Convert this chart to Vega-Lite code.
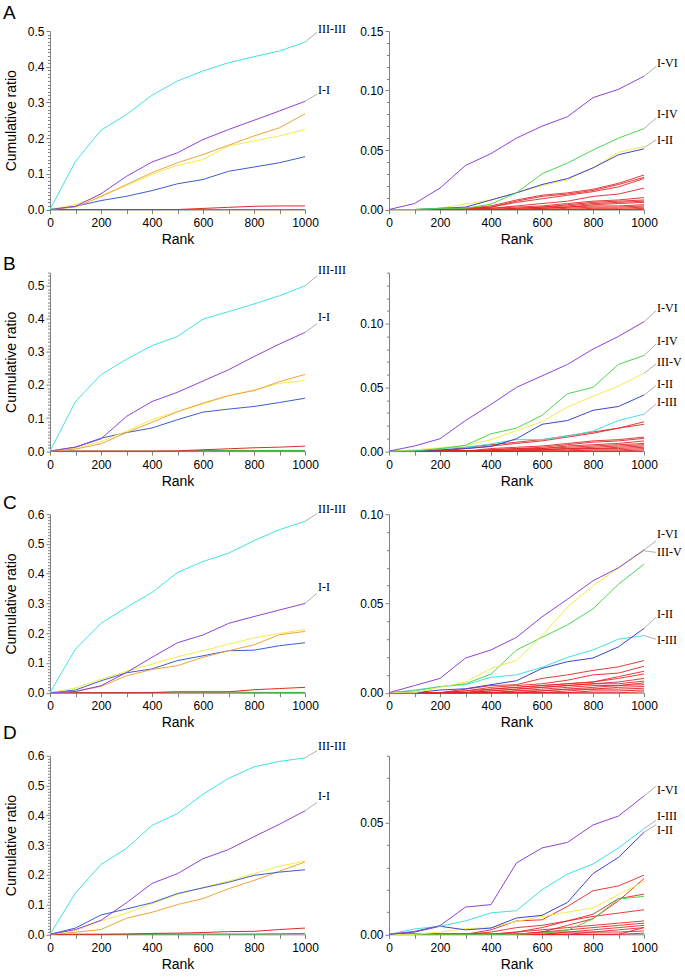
{
"$schema":"https://vega.github.io/schema/vega-lite/v6.json",
"padding":{"left":3,"top":4,"right":5,"bottom":5},
"background":"white",
"config":{"view":{"stroke":null},
"axis":{"domainColor":"#808080","tickColor":"#808080","labelColor":"#000","labelFont":"Liberation Sans","labelFontSize":12,"titleFont":"Liberation Sans","titleFontSize":14,"titleFontWeight":"normal","titleColor":"#000","grid":false,"domainWidth":1,"tickWidth":1}},
"datasets":{
"A1":[
{"s":"s7","x":0,"y":0},{"s":"s7","x":1000,"y":0},
{"s":"s6","x":0,"y":0},{"s":"s6","x":500,"y":0},{"s":"s6","x":600,"y":0.003},{"s":"s6","x":700,"y":0.006},{"s":"s6","x":800,"y":0.009},{"s":"s6","x":900,"y":0.01},{"s":"s6","x":1000,"y":0.01},
{"s":"s5","x":0,"y":0},{"s":"s5","x":100,"y":0.009},{"s":"s5","x":200,"y":0.025},{"s":"s5","x":300,"y":0.037},{"s":"s5","x":400,"y":0.053},{"s":"s5","x":500,"y":0.072},{"s":"s5","x":600,"y":0.084},{"s":"s5","x":700,"y":0.107},{"s":"s5","x":800,"y":0.119},{"s":"s5","x":900,"y":0.131},{"s":"s5","x":1000,"y":0.148},
{"s":"s4","x":0,"y":0},{"s":"s4","x":100,"y":0.014},{"s":"s4","x":200,"y":0.039},{"s":"s4","x":300,"y":0.067},{"s":"s4","x":400,"y":0.098},{"s":"s4","x":500,"y":0.124},{"s":"s4","x":600,"y":0.14},{"s":"s4","x":700,"y":0.178},{"s":"s4","x":800,"y":0.192},{"s":"s4","x":900,"y":0.206},{"s":"s4","x":1000,"y":0.224},
{"s":"s3","x":0,"y":0},{"s":"s3","x":100,"y":0.007},{"s":"s3","x":200,"y":0.036},{"s":"s3","x":300,"y":0.07},{"s":"s3","x":400,"y":0.103},{"s":"s3","x":500,"y":0.131},{"s":"s3","x":600,"y":0.154},{"s":"s3","x":700,"y":0.18},{"s":"s3","x":800,"y":0.206},{"s":"s3","x":900,"y":0.229},{"s":"s3","x":1000,"y":0.268},
{"s":"I-I","x":0,"y":0},{"s":"I-I","x":100,"y":0.009},{"s":"I-I","x":200,"y":0.044},{"s":"I-I","x":300,"y":0.093},{"s":"I-I","x":400,"y":0.133},{"s":"I-I","x":500,"y":0.159},{"s":"I-I","x":600,"y":0.196},{"s":"I-I","x":700,"y":0.224},{"s":"I-I","x":800,"y":0.25},{"s":"I-I","x":900,"y":0.276},{"s":"I-I","x":1000,"y":0.303},
{"s":"III-III","x":0,"y":0},{"s":"III-III","x":100,"y":0.135},{"s":"III-III","x":200,"y":0.222},{"s":"III-III","x":300,"y":0.266},{"s":"III-III","x":400,"y":0.32},{"s":"III-III","x":500,"y":0.36},{"s":"III-III","x":600,"y":0.388},{"s":"III-III","x":700,"y":0.411},{"s":"III-III","x":800,"y":0.428},{"s":"III-III","x":900,"y":0.444},{"s":"III-III","x":1000,"y":0.469}
],
"A2":[
{"s":"r01","x":0,"y":0},{"s":"r01","x":200,"y":0},{"s":"r01","x":300,"y":0.001},{"s":"r01","x":400,"y":0.003},{"s":"r01","x":500,"y":0.008},{"s":"r01","x":600,"y":0.012},{"s":"r01","x":700,"y":0.014},{"s":"r01","x":800,"y":0.017},{"s":"r01","x":900,"y":0.022},{"s":"r01","x":1000,"y":0.029},
{"s":"r02","x":0,"y":0},{"s":"r02","x":200,"y":0},{"s":"r02","x":300,"y":0.001},{"s":"r02","x":400,"y":0.002},{"s":"r02","x":500,"y":0.007},{"s":"r02","x":600,"y":0.011},{"s":"r02","x":700,"y":0.013},{"s":"r02","x":800,"y":0.016},{"s":"r02","x":900,"y":0.021},{"s":"r02","x":1000,"y":0.027},
{"s":"r03","x":0,"y":0},{"s":"r03","x":300,"y":0},{"s":"r03","x":400,"y":0.002},{"s":"r03","x":500,"y":0.006},{"s":"r03","x":600,"y":0.009},{"s":"r03","x":700,"y":0.012},{"s":"r03","x":800,"y":0.015},{"s":"r03","x":900,"y":0.019},{"s":"r03","x":1000,"y":0.026},
{"s":"r04","x":0,"y":0},{"s":"r04","x":300,"y":0},{"s":"r04","x":400,"y":0.001},{"s":"r04","x":500,"y":0.003},{"s":"r04","x":600,"y":0.005},{"s":"r04","x":700,"y":0.007},{"s":"r04","x":800,"y":0.011},{"s":"r04","x":900,"y":0.013},{"s":"r04","x":1000,"y":0.018},
{"s":"r05","x":0,"y":0},{"s":"r05","x":300,"y":0},{"s":"r05","x":400,"y":0.001},{"s":"r05","x":500,"y":0.002},{"s":"r05","x":600,"y":0.003},{"s":"r05","x":700,"y":0.005},{"s":"r05","x":800,"y":0.007},{"s":"r05","x":900,"y":0.008},{"s":"r05","x":1000,"y":0.01},
{"s":"r06","x":0,"y":0},{"s":"r06","x":400,"y":0},{"s":"r06","x":500,"y":0.001},{"s":"r06","x":600,"y":0.002},{"s":"r06","x":700,"y":0.004},{"s":"r06","x":800,"y":0.006},{"s":"r06","x":900,"y":0.007},{"s":"r06","x":1000,"y":0.008},
{"s":"r07","x":0,"y":0},{"s":"r07","x":400,"y":0},{"s":"r07","x":500,"y":0.001},{"s":"r07","x":600,"y":0.002},{"s":"r07","x":700,"y":0.003},{"s":"r07","x":800,"y":0.005},{"s":"r07","x":900,"y":0.006},{"s":"r07","x":1000,"y":0.007},
{"s":"r08","x":0,"y":0},{"s":"r08","x":500,"y":0},{"s":"r08","x":600,"y":0.001},{"s":"r08","x":700,"y":0.002},{"s":"r08","x":800,"y":0.004},{"s":"r08","x":900,"y":0.005},{"s":"r08","x":1000,"y":0.006},
{"s":"r09","x":0,"y":0},{"s":"r09","x":500,"y":0},{"s":"r09","x":600,"y":0.001},{"s":"r09","x":700,"y":0.002},{"s":"r09","x":800,"y":0.003},{"s":"r09","x":900,"y":0.003},{"s":"r09","x":1000,"y":0.004},
{"s":"r10","x":0,"y":0},{"s":"r10","x":600,"y":0},{"s":"r10","x":700,"y":0.001},{"s":"r10","x":800,"y":0.002},{"s":"r10","x":900,"y":0.002},{"s":"r10","x":1000,"y":0.003},
{"s":"r11","x":0,"y":0},{"s":"r11","x":700,"y":0},{"s":"r11","x":800,"y":0.001},{"s":"r11","x":900,"y":0.001},{"s":"r11","x":1000,"y":0.002},
{"s":"r12","x":0,"y":0},{"s":"r12","x":900,"y":0},{"s":"r12","x":1000,"y":0.001},
{"s":"r13","x":0,"y":0},{"s":"r13","x":1000,"y":0},
{"s":"III-V","x":0,"y":0},{"s":"III-V","x":100,"y":0},{"s":"III-V","x":200,"y":0.001},{"s":"III-V","x":300,"y":0.0045},{"s":"III-V","x":400,"y":0.008},{"s":"III-V","x":500,"y":0.014},{"s":"III-V","x":600,"y":0.02},{"s":"III-V","x":700,"y":0.025},{"s":"III-V","x":800,"y":0.035},{"s":"III-V","x":900,"y":0.048},{"s":"III-V","x":1000,"y":0.053},
{"s":"I-II","x":0,"y":0},{"s":"I-II","x":100,"y":0},{"s":"I-II","x":200,"y":0.001},{"s":"I-II","x":300,"y":0.002},{"s":"I-II","x":400,"y":0.008},{"s":"I-II","x":500,"y":0.014},{"s":"I-II","x":600,"y":0.021},{"s":"I-II","x":700,"y":0.026},{"s":"I-II","x":800,"y":0.035},{"s":"I-II","x":900,"y":0.046},{"s":"I-II","x":1000,"y":0.051},
{"s":"I-IV","x":0,"y":0},{"s":"I-IV","x":100,"y":0},{"s":"I-IV","x":200,"y":0.001},{"s":"I-IV","x":300,"y":0.001},{"s":"I-IV","x":400,"y":0.0045},{"s":"I-IV","x":500,"y":0.014},{"s":"I-IV","x":600,"y":0.03},{"s":"I-IV","x":700,"y":0.039},{"s":"I-IV","x":800,"y":0.05},{"s":"I-IV","x":900,"y":0.06},{"s":"I-IV","x":1000,"y":0.068},
{"s":"I-VI","x":0,"y":0},{"s":"I-VI","x":100,"y":0.005},{"s":"I-VI","x":200,"y":0.018},{"s":"I-VI","x":300,"y":0.037},{"s":"I-VI","x":400,"y":0.047},{"s":"I-VI","x":500,"y":0.06},{"s":"I-VI","x":600,"y":0.07},{"s":"I-VI","x":700,"y":0.078},{"s":"I-VI","x":800,"y":0.094},{"s":"I-VI","x":900,"y":0.101},{"s":"I-VI","x":1000,"y":0.112}
],
"B1":[
{"s":"s7","x":0,"y":0},{"s":"s7","x":500,"y":0},{"s":"s7","x":600,"y":0.002},{"s":"s7","x":1000,"y":0.002},
{"s":"s6","x":0,"y":0},{"s":"s6","x":400,"y":0},{"s":"s6","x":500,"y":0.001},{"s":"s6","x":600,"y":0.004},{"s":"s6","x":700,"y":0.007},{"s":"s6","x":800,"y":0.01},{"s":"s6","x":900,"y":0.012},{"s":"s6","x":1000,"y":0.015},
{"s":"s5","x":0,"y":0},{"s":"s5","x":100,"y":0.012},{"s":"s5","x":200,"y":0.039},{"s":"s5","x":300,"y":0.056},{"s":"s5","x":400,"y":0.07},{"s":"s5","x":500,"y":0.095},{"s":"s5","x":600,"y":0.118},{"s":"s5","x":700,"y":0.127},{"s":"s5","x":800,"y":0.135},{"s":"s5","x":900,"y":0.147},{"s":"s5","x":1000,"y":0.16},
{"s":"s4","x":0,"y":0},{"s":"s4","x":100,"y":0.009},{"s":"s4","x":200,"y":0.029},{"s":"s4","x":300,"y":0.06},{"s":"s4","x":400,"y":0.095},{"s":"s4","x":500,"y":0.12},{"s":"s4","x":600,"y":0.143},{"s":"s4","x":700,"y":0.167},{"s":"s4","x":800,"y":0.185},{"s":"s4","x":900,"y":0.205},{"s":"s4","x":1000,"y":0.214},
{"s":"s3","x":0,"y":0},{"s":"s3","x":100,"y":0.006},{"s":"s3","x":200,"y":0.022},{"s":"s3","x":300,"y":0.056},{"s":"s3","x":400,"y":0.087},{"s":"s3","x":500,"y":0.119},{"s":"s3","x":600,"y":0.145},{"s":"s3","x":700,"y":0.168},{"s":"s3","x":800,"y":0.183},{"s":"s3","x":900,"y":0.21},{"s":"s3","x":1000,"y":0.232},
{"s":"I-I","x":0,"y":0},{"s":"I-I","x":100,"y":0.012},{"s":"I-I","x":200,"y":0.037},{"s":"I-I","x":300,"y":0.105},{"s":"I-I","x":400,"y":0.15},{"s":"I-I","x":500,"y":0.178},{"s":"I-I","x":600,"y":0.212},{"s":"I-I","x":700,"y":0.246},{"s":"I-I","x":800,"y":0.286},{"s":"I-I","x":900,"y":0.324},{"s":"I-I","x":1000,"y":0.359},
{"s":"III-III","x":0,"y":0},{"s":"III-III","x":100,"y":0.15},{"s":"III-III","x":200,"y":0.231},{"s":"III-III","x":300,"y":0.278},{"s":"III-III","x":400,"y":0.319},{"s":"III-III","x":500,"y":0.347},{"s":"III-III","x":600,"y":0.399},{"s":"III-III","x":700,"y":0.422},{"s":"III-III","x":800,"y":0.445},{"s":"III-III","x":900,"y":0.47},{"s":"III-III","x":1000,"y":0.5}
],
"B2":[
{"s":"r01","x":0,"y":0},{"s":"r01","x":200,"y":0},{"s":"r01","x":300,"y":0.003},{"s":"r01","x":400,"y":0.005},{"s":"r01","x":500,"y":0.007},{"s":"r01","x":600,"y":0.009},{"s":"r01","x":700,"y":0.012},{"s":"r01","x":800,"y":0.015},{"s":"r01","x":900,"y":0.018},{"s":"r01","x":1000,"y":0.023},
{"s":"r02","x":0,"y":0},{"s":"r02","x":200,"y":0},{"s":"r02","x":300,"y":0.002},{"s":"r02","x":400,"y":0.004},{"s":"r02","x":500,"y":0.006},{"s":"r02","x":600,"y":0.008},{"s":"r02","x":700,"y":0.011},{"s":"r02","x":800,"y":0.014},{"s":"r02","x":900,"y":0.018},{"s":"r02","x":1000,"y":0.021},
{"s":"r03","x":0,"y":0},{"s":"r03","x":300,"y":0},{"s":"r03","x":400,"y":0.002},{"s":"r03","x":500,"y":0.003},{"s":"r03","x":600,"y":0.004},{"s":"r03","x":700,"y":0.006},{"s":"r03","x":800,"y":0.008},{"s":"r03","x":900,"y":0.009},{"s":"r03","x":1000,"y":0.011},
{"s":"r04","x":0,"y":0},{"s":"r04","x":300,"y":0},{"s":"r04","x":400,"y":0.001},{"s":"r04","x":500,"y":0.002},{"s":"r04","x":600,"y":0.003},{"s":"r04","x":700,"y":0.005},{"s":"r04","x":800,"y":0.007},{"s":"r04","x":900,"y":0.008},{"s":"r04","x":1000,"y":0.01},
{"s":"r05","x":0,"y":0},{"s":"r05","x":300,"y":0},{"s":"r05","x":400,"y":0.001},{"s":"r05","x":500,"y":0.002},{"s":"r05","x":600,"y":0.002},{"s":"r05","x":700,"y":0.004},{"s":"r05","x":800,"y":0.005},{"s":"r05","x":900,"y":0.006},{"s":"r05","x":1000,"y":0.008},
{"s":"r06","x":0,"y":0},{"s":"r06","x":400,"y":0},{"s":"r06","x":500,"y":0.001},{"s":"r06","x":600,"y":0.002},{"s":"r06","x":700,"y":0.003},{"s":"r06","x":800,"y":0.004},{"s":"r06","x":900,"y":0.005},{"s":"r06","x":1000,"y":0.006},
{"s":"r07","x":0,"y":0},{"s":"r07","x":400,"y":0},{"s":"r07","x":500,"y":0.001},{"s":"r07","x":600,"y":0.001},{"s":"r07","x":700,"y":0.002},{"s":"r07","x":800,"y":0.003},{"s":"r07","x":900,"y":0.004},{"s":"r07","x":1000,"y":0.005},
{"s":"r08","x":0,"y":0},{"s":"r08","x":500,"y":0},{"s":"r08","x":600,"y":0.001},{"s":"r08","x":700,"y":0.002},{"s":"r08","x":800,"y":0.002},{"s":"r08","x":900,"y":0.003},{"s":"r08","x":1000,"y":0.004},
{"s":"r09","x":0,"y":0},{"s":"r09","x":500,"y":0},{"s":"r09","x":600,"y":0.001},{"s":"r09","x":700,"y":0.001},{"s":"r09","x":800,"y":0.002},{"s":"r09","x":900,"y":0.002},{"s":"r09","x":1000,"y":0.003},
{"s":"r10","x":0,"y":0},{"s":"r10","x":700,"y":0},{"s":"r10","x":800,"y":0.001},{"s":"r10","x":900,"y":0.001},{"s":"r10","x":1000,"y":0.002},
{"s":"r11","x":0,"y":0},{"s":"r11","x":900,"y":0},{"s":"r11","x":1000,"y":0.001},
{"s":"r12","x":0,"y":0},{"s":"r12","x":1000,"y":0},
{"s":"I-III","x":0,"y":0},{"s":"I-III","x":100,"y":0.0005},{"s":"I-III","x":200,"y":0.002},{"s":"I-III","x":300,"y":0.003},{"s":"I-III","x":400,"y":0.0057},{"s":"I-III","x":500,"y":0.009},{"s":"I-III","x":600,"y":0.009},{"s":"I-III","x":700,"y":0.0117},{"s":"I-III","x":800,"y":0.0157},{"s":"I-III","x":900,"y":0.024},{"s":"I-III","x":1000,"y":0.029},
{"s":"I-II","x":0,"y":0},{"s":"I-II","x":100,"y":0},{"s":"I-II","x":200,"y":0.001},{"s":"I-II","x":300,"y":0.002},{"s":"I-II","x":400,"y":0.0036},{"s":"I-II","x":500,"y":0.0097},{"s":"I-II","x":600,"y":0.021},{"s":"I-II","x":700,"y":0.024},{"s":"I-II","x":800,"y":0.032},{"s":"I-II","x":900,"y":0.035},{"s":"I-II","x":1000,"y":0.044},
{"s":"III-V","x":0,"y":0},{"s":"III-V","x":100,"y":0.001},{"s":"III-V","x":200,"y":0.0026},{"s":"III-V","x":300,"y":0.0045},{"s":"III-V","x":400,"y":0.009},{"s":"III-V","x":500,"y":0.016},{"s":"III-V","x":600,"y":0.023},{"s":"III-V","x":700,"y":0.0345},{"s":"III-V","x":800,"y":0.043},{"s":"III-V","x":900,"y":0.051},{"s":"III-V","x":1000,"y":0.061},
{"s":"I-IV","x":0,"y":0},{"s":"I-IV","x":100,"y":0},{"s":"I-IV","x":200,"y":0.002},{"s":"I-IV","x":300,"y":0.0045},{"s":"I-IV","x":400,"y":0.0136},{"s":"I-IV","x":500,"y":0.018},{"s":"I-IV","x":600,"y":0.028},{"s":"I-IV","x":700,"y":0.045},{"s":"I-IV","x":800,"y":0.05},{"s":"I-IV","x":900,"y":0.068},{"s":"I-IV","x":1000,"y":0.075},
{"s":"I-VI","x":0,"y":0},{"s":"I-VI","x":100,"y":0.004},{"s":"I-VI","x":200,"y":0.0097},{"s":"I-VI","x":300,"y":0.024},{"s":"I-VI","x":400,"y":0.0366},{"s":"I-VI","x":500,"y":0.05},{"s":"I-VI","x":600,"y":0.059},{"s":"I-VI","x":700,"y":0.068},{"s":"I-VI","x":800,"y":0.08},{"s":"I-VI","x":900,"y":0.09},{"s":"I-VI","x":1000,"y":0.1015}
],
"C1":[
{"s":"s7","x":0,"y":0},{"s":"s7","x":300,"y":0},{"s":"s7","x":400,"y":0.001},{"s":"s7","x":500,"y":0.002},{"s":"s7","x":600,"y":0.002},{"s":"s7","x":700,"y":0.002},{"s":"s7","x":800,"y":0.001},{"s":"s7","x":900,"y":0.001},{"s":"s7","x":1000,"y":0.001},
{"s":"s6","x":0,"y":0},{"s":"s6","x":400,"y":0},{"s":"s6","x":500,"y":0.003},{"s":"s6","x":600,"y":0.003},{"s":"s6","x":700,"y":0.003},{"s":"s6","x":800,"y":0.01},{"s":"s6","x":900,"y":0.014},{"s":"s6","x":1000,"y":0.018},
{"s":"s5","x":0,"y":0},{"s":"s5","x":100,"y":0.009},{"s":"s5","x":200,"y":0.04},{"s":"s5","x":300,"y":0.067},{"s":"s5","x":400,"y":0.08},{"s":"s5","x":500,"y":0.108},{"s":"s5","x":600,"y":0.124},{"s":"s5","x":700,"y":0.141},{"s":"s5","x":800,"y":0.143},{"s":"s5","x":900,"y":0.158},{"s":"s5","x":1000,"y":0.168},
{"s":"s3","x":0,"y":0},{"s":"s3","x":100,"y":0.004},{"s":"s3","x":200,"y":0.021},{"s":"s3","x":300,"y":0.057},{"s":"s3","x":400,"y":0.078},{"s":"s3","x":500,"y":0.091},{"s":"s3","x":600,"y":0.119},{"s":"s3","x":700,"y":0.141},{"s":"s3","x":800,"y":0.161},{"s":"s3","x":900,"y":0.195},{"s":"s3","x":1000,"y":0.206},
{"s":"s4","x":0,"y":0},{"s":"s4","x":100,"y":0.016},{"s":"s4","x":200,"y":0.045},{"s":"s4","x":300,"y":0.072},{"s":"s4","x":400,"y":0.096},{"s":"s4","x":500,"y":0.121},{"s":"s4","x":600,"y":0.141},{"s":"s4","x":700,"y":0.163},{"s":"s4","x":800,"y":0.184},{"s":"s4","x":900,"y":0.199},{"s":"s4","x":1000,"y":0.213},
{"s":"I-I","x":0,"y":0},{"s":"I-I","x":100,"y":0.004},{"s":"I-I","x":200,"y":0.0235},{"s":"I-I","x":300,"y":0.068},{"s":"I-I","x":400,"y":0.119},{"s":"I-I","x":500,"y":0.168},{"s":"I-I","x":600,"y":0.194},{"s":"I-I","x":700,"y":0.233},{"s":"I-I","x":800,"y":0.256},{"s":"I-I","x":900,"y":0.278},{"s":"I-I","x":1000,"y":0.3},
{"s":"III-III","x":0,"y":0},{"s":"III-III","x":100,"y":0.147},{"s":"III-III","x":200,"y":0.233},{"s":"III-III","x":300,"y":0.287},{"s":"III-III","x":400,"y":0.337},{"s":"III-III","x":500,"y":0.404},{"s":"III-III","x":600,"y":0.441},{"s":"III-III","x":700,"y":0.469},{"s":"III-III","x":800,"y":0.511},{"s":"III-III","x":900,"y":0.548},{"s":"III-III","x":1000,"y":0.576}
],
"C2":[
{"s":"r01","x":0,"y":0},{"s":"r01","x":200,"y":0},{"s":"r01","x":300,"y":0.002},{"s":"r01","x":400,"y":0.004},{"s":"r01","x":500,"y":0.0045},{"s":"r01","x":600,"y":0.008},{"s":"r01","x":700,"y":0.01},{"s":"r01","x":800,"y":0.0125},{"s":"r01","x":900,"y":0.0145},{"s":"r01","x":1000,"y":0.018},
{"s":"r02","x":0,"y":0},{"s":"r02","x":200,"y":0},{"s":"r02","x":300,"y":0.001},{"s":"r02","x":400,"y":0.003},{"s":"r02","x":500,"y":0.004},{"s":"r02","x":600,"y":0.005},{"s":"r02","x":700,"y":0.007},{"s":"r02","x":800,"y":0.01},{"s":"r02","x":900,"y":0.011},{"s":"r02","x":1000,"y":0.0148},
{"s":"r03","x":0,"y":0},{"s":"r03","x":200,"y":0},{"s":"r03","x":300,"y":0.001},{"s":"r03","x":400,"y":0.002},{"s":"r03","x":500,"y":0.003},{"s":"r03","x":600,"y":0.004},{"s":"r03","x":700,"y":0.005},{"s":"r03","x":800,"y":0.006},{"s":"r03","x":900,"y":0.009},{"s":"r03","x":1000,"y":0.012},
{"s":"r04","x":0,"y":0},{"s":"r04","x":300,"y":0},{"s":"r04","x":400,"y":0.002},{"s":"r04","x":500,"y":0.003},{"s":"r04","x":600,"y":0.004},{"s":"r04","x":700,"y":0.005},{"s":"r04","x":800,"y":0.006},{"s":"r04","x":900,"y":0.008},{"s":"r04","x":1000,"y":0.0105},
{"s":"r05","x":0,"y":0},{"s":"r05","x":300,"y":0},{"s":"r05","x":400,"y":0.001},{"s":"r05","x":500,"y":0.002},{"s":"r05","x":600,"y":0.003},{"s":"r05","x":700,"y":0.004},{"s":"r05","x":800,"y":0.005},{"s":"r05","x":900,"y":0.006},{"s":"r05","x":1000,"y":0.008},
{"s":"r06","x":0,"y":0},{"s":"r06","x":300,"y":0},{"s":"r06","x":400,"y":0.001},{"s":"r06","x":500,"y":0.002},{"s":"r06","x":600,"y":0.003},{"s":"r06","x":700,"y":0.004},{"s":"r06","x":800,"y":0.005},{"s":"r06","x":900,"y":0.005},{"s":"r06","x":1000,"y":0.0065},
{"s":"r07","x":0,"y":0},{"s":"r07","x":400,"y":0},{"s":"r07","x":500,"y":0.001},{"s":"r07","x":600,"y":0.002},{"s":"r07","x":700,"y":0.003},{"s":"r07","x":800,"y":0.004},{"s":"r07","x":900,"y":0.004},{"s":"r07","x":1000,"y":0.0055},
{"s":"r08","x":0,"y":0},{"s":"r08","x":400,"y":0},{"s":"r08","x":500,"y":0.001},{"s":"r08","x":600,"y":0.001},{"s":"r08","x":700,"y":0.002},{"s":"r08","x":800,"y":0.003},{"s":"r08","x":900,"y":0.004},{"s":"r08","x":1000,"y":0.0045},
{"s":"r09","x":0,"y":0},{"s":"r09","x":500,"y":0},{"s":"r09","x":600,"y":0.001},{"s":"r09","x":700,"y":0.002},{"s":"r09","x":800,"y":0.002},{"s":"r09","x":900,"y":0.003},{"s":"r09","x":1000,"y":0.0035},
{"s":"r10","x":0,"y":0},{"s":"r10","x":600,"y":0},{"s":"r10","x":700,"y":0.001},{"s":"r10","x":800,"y":0.002},{"s":"r10","x":900,"y":0.002},{"s":"r10","x":1000,"y":0.0025},
{"s":"r11","x":0,"y":0},{"s":"r11","x":700,"y":0},{"s":"r11","x":800,"y":0.001},{"s":"r11","x":900,"y":0.001},{"s":"r11","x":1000,"y":0.0015},
{"s":"r12","x":0,"y":0},{"s":"r12","x":900,"y":0},{"s":"r12","x":1000,"y":0.0005},
{"s":"I-III","x":0,"y":0},{"s":"I-III","x":100,"y":0.0015},{"s":"I-III","x":200,"y":0.0034},{"s":"I-III","x":300,"y":0.0045},{"s":"I-III","x":400,"y":0.0086},{"s":"I-III","x":500,"y":0.01},{"s":"I-III","x":600,"y":0.0142},{"s":"I-III","x":700,"y":0.0198},{"s":"I-III","x":800,"y":0.0239},{"s":"I-III","x":900,"y":0.03},{"s":"I-III","x":1000,"y":0.032},
{"s":"I-II","x":0,"y":0},{"s":"I-II","x":100,"y":0},{"s":"I-II","x":200,"y":0.0015},{"s":"I-II","x":300,"y":0.0022},{"s":"I-II","x":400,"y":0.0045},{"s":"I-II","x":500,"y":0.0067},{"s":"I-II","x":600,"y":0.0136},{"s":"I-II","x":700,"y":0.0174},{"s":"I-II","x":800,"y":0.0194},{"s":"I-II","x":900,"y":0.0257},{"s":"I-II","x":1000,"y":0.036},
{"s":"I-IV","x":0,"y":0},{"s":"I-IV","x":100,"y":0.001},{"s":"I-IV","x":200,"y":0.0034},{"s":"I-IV","x":300,"y":0.005},{"s":"I-IV","x":400,"y":0.0104},{"s":"I-IV","x":500,"y":0.0239},{"s":"I-IV","x":600,"y":0.031},{"s":"I-IV","x":700,"y":0.038},{"s":"I-IV","x":800,"y":0.047},{"s":"I-IV","x":900,"y":0.0608},{"s":"I-IV","x":1000,"y":0.072},
{"s":"III-V","x":0,"y":0},{"s":"III-V","x":100,"y":0},{"s":"III-V","x":200,"y":0.003},{"s":"III-V","x":300,"y":0.006},{"s":"III-V","x":400,"y":0.0136},{"s":"III-V","x":500,"y":0.018},{"s":"III-V","x":600,"y":0.032},{"s":"III-V","x":700,"y":0.048},{"s":"III-V","x":800,"y":0.06},{"s":"III-V","x":900,"y":0.0698},{"s":"III-V","x":1000,"y":0.0795},
{"s":"I-VI","x":0,"y":0},{"s":"I-VI","x":100,"y":0.004},{"s":"I-VI","x":200,"y":0.008},{"s":"I-VI","x":300,"y":0.0194},{"s":"I-VI","x":400,"y":0.024},{"s":"I-VI","x":500,"y":0.031},{"s":"I-VI","x":600,"y":0.0425},{"s":"I-VI","x":700,"y":0.0524},{"s":"I-VI","x":800,"y":0.0627},{"s":"I-VI","x":900,"y":0.07},{"s":"I-VI","x":1000,"y":0.08}
],
"D1":[
{"s":"s7","x":0,"y":0},{"s":"s7","x":300,"y":0},{"s":"s7","x":400,"y":0.001},{"s":"s7","x":800,"y":0.001},{"s":"s7","x":900,"y":0.002},{"s":"s7","x":1000,"y":0.003},
{"s":"s6","x":0,"y":0},{"s":"s6","x":200,"y":0},{"s":"s6","x":300,"y":0.001},{"s":"s6","x":400,"y":0.003},{"s":"s6","x":500,"y":0.004},{"s":"s6","x":600,"y":0.006},{"s":"s6","x":700,"y":0.009},{"s":"s6","x":800,"y":0.01},{"s":"s6","x":900,"y":0.016},{"s":"s6","x":1000,"y":0.021},
{"s":"s3","x":0,"y":0},{"s":"s3","x":100,"y":0.007},{"s":"s3","x":200,"y":0.016},{"s":"s3","x":300,"y":0.054},{"s":"s3","x":400,"y":0.074},{"s":"s3","x":500,"y":0.1},{"s":"s3","x":600,"y":0.12},{"s":"s3","x":700,"y":0.153},{"s":"s3","x":800,"y":0.181},{"s":"s3","x":900,"y":0.212},{"s":"s3","x":1000,"y":0.243},
{"s":"s4","x":0,"y":0},{"s":"s4","x":100,"y":0.012},{"s":"s4","x":200,"y":0.045},{"s":"s4","x":300,"y":0.071},{"s":"s4","x":400,"y":0.103},{"s":"s4","x":500,"y":0.134},{"s":"s4","x":600,"y":0.158},{"s":"s4","x":700,"y":0.179},{"s":"s4","x":800,"y":0.204},{"s":"s4","x":900,"y":0.229},{"s":"s4","x":1000,"y":0.246},
{"s":"s5","x":0,"y":0},{"s":"s5","x":100,"y":0.021},{"s":"s5","x":200,"y":0.065},{"s":"s5","x":300,"y":0.085},{"s":"s5","x":400,"y":0.106},{"s":"s5","x":500,"y":0.137},{"s":"s5","x":600,"y":0.156},{"s":"s5","x":700,"y":0.175},{"s":"s5","x":800,"y":0.198},{"s":"s5","x":900,"y":0.209},{"s":"s5","x":1000,"y":0.217},
{"s":"I-I","x":0,"y":0},{"s":"I-I","x":100,"y":0.016},{"s":"I-I","x":200,"y":0.047},{"s":"I-I","x":300,"y":0.106},{"s":"I-I","x":400,"y":0.171},{"s":"I-I","x":500,"y":0.204},{"s":"I-I","x":600,"y":0.254},{"s":"I-I","x":700,"y":0.285},{"s":"I-I","x":800,"y":0.328},{"s":"I-I","x":900,"y":0.37},{"s":"I-I","x":1000,"y":0.415},
{"s":"III-III","x":0,"y":0},{"s":"III-III","x":100,"y":0.139},{"s":"III-III","x":200,"y":0.235},{"s":"III-III","x":300,"y":0.289},{"s":"III-III","x":400,"y":0.366},{"s":"III-III","x":500,"y":0.406},{"s":"III-III","x":600,"y":0.471},{"s":"III-III","x":700,"y":0.524},{"s":"III-III","x":800,"y":0.563},{"s":"III-III","x":900,"y":0.581},{"s":"III-III","x":1000,"y":0.593}
],
"D2":[
{"s":"r01","x":0,"y":0},{"s":"r01","x":300,"y":0},{"s":"r01","x":400,"y":0.002},{"s":"r01","x":500,"y":0.006},{"s":"r01","x":600,"y":0.0065},{"s":"r01","x":700,"y":0.0125},{"s":"r01","x":800,"y":0.0195},{"s":"r01","x":900,"y":0.0217},{"s":"r01","x":1000,"y":0.0265},
{"s":"r02","x":0,"y":0},{"s":"r02","x":500,"y":0},{"s":"r02","x":600,"y":0.001},{"s":"r02","x":700,"y":0.004},{"s":"r02","x":800,"y":0.007},{"s":"r02","x":900,"y":0.015},{"s":"r02","x":1000,"y":0.025},
{"s":"r03","x":0,"y":0},{"s":"r03","x":400,"y":0},{"s":"r03","x":500,"y":0.001},{"s":"r03","x":600,"y":0.003},{"s":"r03","x":700,"y":0.006},{"s":"r03","x":800,"y":0.009},{"s":"r03","x":900,"y":0.016},{"s":"r03","x":1000,"y":0.018},
{"s":"r04","x":0,"y":0},{"s":"r04","x":300,"y":0},{"s":"r04","x":400,"y":0.001},{"s":"r04","x":500,"y":0.003},{"s":"r04","x":600,"y":0.004},{"s":"r04","x":700,"y":0.006},{"s":"r04","x":800,"y":0.008},{"s":"r04","x":900,"y":0.0095},{"s":"r04","x":1000,"y":0.011},
{"s":"r05","x":0,"y":0},{"s":"r05","x":400,"y":0},{"s":"r05","x":500,"y":0.001},{"s":"r05","x":600,"y":0.002},{"s":"r05","x":700,"y":0.003},{"s":"r05","x":800,"y":0.004},{"s":"r05","x":900,"y":0.005},{"s":"r05","x":1000,"y":0.006},
{"s":"r06","x":0,"y":0},{"s":"r06","x":500,"y":0},{"s":"r06","x":600,"y":0.001},{"s":"r06","x":700,"y":0.002},{"s":"r06","x":800,"y":0.003},{"s":"r06","x":900,"y":0.004},{"s":"r06","x":1000,"y":0.005},
{"s":"r07","x":0,"y":0},{"s":"r07","x":500,"y":0},{"s":"r07","x":600,"y":0.001},{"s":"r07","x":700,"y":0.001},{"s":"r07","x":800,"y":0.002},{"s":"r07","x":900,"y":0.003},{"s":"r07","x":1000,"y":0.004},
{"s":"r08","x":0,"y":0},{"s":"r08","x":600,"y":0},{"s":"r08","x":700,"y":0.001},{"s":"r08","x":800,"y":0.001},{"s":"r08","x":900,"y":0.002},{"s":"r08","x":1000,"y":0.003},
{"s":"r09","x":0,"y":0},{"s":"r09","x":700,"y":0},{"s":"r09","x":800,"y":0.001},{"s":"r09","x":900,"y":0.001},{"s":"r09","x":1000,"y":0.0015},
{"s":"r10","x":0,"y":0},{"s":"r10","x":900,"y":0},{"s":"r10","x":1000,"y":0.003},
{"s":"r11","x":0,"y":0},{"s":"r11","x":900,"y":0},{"s":"r11","x":1000,"y":0.0005},
{"s":"I-IV","x":0,"y":0},{"s":"I-IV","x":500,"y":0},{"s":"I-IV","x":600,"y":0.0005},{"s":"I-IV","x":700,"y":0.0018},{"s":"I-IV","x":800,"y":0.0069},{"s":"I-IV","x":900,"y":0.0158},{"s":"I-IV","x":1000,"y":0.017},
{"s":"III-V","x":0,"y":0},{"s":"III-V","x":100,"y":0},{"s":"III-V","x":200,"y":0.001},{"s":"III-V","x":300,"y":0.0025},{"s":"III-V","x":400,"y":0.003},{"s":"III-V","x":500,"y":0.0058},{"s":"III-V","x":600,"y":0.008},{"s":"III-V","x":700,"y":0.0099},{"s":"III-V","x":800,"y":0.0118},{"s":"III-V","x":900,"y":0.0178},{"s":"III-V","x":1000,"y":0.0237},
{"s":"I-II","x":0,"y":0},{"s":"I-II","x":100,"y":0.001},{"s":"I-II","x":200,"y":0.0036},{"s":"I-II","x":300,"y":0.002},{"s":"I-II","x":400,"y":0.0028},{"s":"I-II","x":500,"y":0.0073},{"s":"I-II","x":600,"y":0.0085},{"s":"I-II","x":700,"y":0.0143},{"s":"I-II","x":800,"y":0.0272},{"s":"I-II","x":900,"y":0.0345},{"s":"I-II","x":1000,"y":0.0457},
{"s":"I-III","x":0,"y":0},{"s":"I-III","x":100,"y":0.0024},{"s":"I-III","x":200,"y":0.0036},{"s":"I-III","x":300,"y":0.006},{"s":"I-III","x":400,"y":0.0096},{"s":"I-III","x":500,"y":0.0106},{"s":"I-III","x":600,"y":0.02},{"s":"I-III","x":700,"y":0.027},{"s":"I-III","x":800,"y":0.0315},{"s":"I-III","x":900,"y":0.0387},{"s":"I-III","x":1000,"y":0.0473},
{"s":"I-VI","x":0,"y":0},{"s":"I-VI","x":100,"y":0.0013},{"s":"I-VI","x":200,"y":0.0039},{"s":"I-VI","x":300,"y":0.0122},{"s":"I-VI","x":400,"y":0.0133},{"s":"I-VI","x":500,"y":0.032},{"s":"I-VI","x":600,"y":0.0387},{"s":"I-VI","x":700,"y":0.0412},{"s":"I-VI","x":800,"y":0.049},{"s":"I-VI","x":900,"y":0.053},{"s":"I-VI","x":1000,"y":0.062}
],
"lab":[
{"p":"A1","s":"III-III","ye":0.469,"yl":0.496,"yt":0.506},
{"p":"A1","s":"I-I","ye":0.303,"yl":0.323,"yt":0.335},
{"p":"A2","s":"I-VI","ye":0.112,"yl":0.12,"yt":0.1235},
{"p":"A2","s":"I-IV","ye":0.068,"yl":0.0767,"yt":0.08},
{"p":"A2","s":"I-II","ye":0.052,"yl":0.0584,"yt":0.0585},
{"p":"B1","s":"III-III","ye":0.5,"yl":0.53,"yt":0.548},
{"p":"B1","s":"I-I","ye":0.359,"yl":0.385,"yt":0.405},
{"p":"B2","s":"I-VI","ye":0.1015,"yl":0.11,"yt":0.1125},
{"p":"B2","s":"I-IV","ye":0.075,"yl":0.0839,"yt":0.0862},
{"p":"B2","s":"III-V","ye":0.061,"yl":0.0683,"yt":0.0695},
{"p":"B2","s":"I-II","ye":0.044,"yl":0.0513,"yt":0.0525},
{"p":"B2","s":"I-III","ye":0.029,"yl":0.037,"yt":0.0385},
{"p":"C1","s":"III-III","ye":0.576,"yl":0.602,"yt":0.617},
{"p":"C1","s":"I-I","ye":0.3,"yl":0.334,"yt":0.354},
{"p":"C2","s":"I-VI","ye":0.08,"yl":0.085,"yt":0.0888},
{"p":"C2","s":"III-V","ye":0.0795,"yl":0.0786,"yt":0.0786},
{"p":"C2","s":"I-II","ye":0.036,"yl":0.0422,"yt":0.044},
{"p":"C2","s":"I-III","ye":0.032,"yl":0.03,"yt":0.0297},
{"p":"D1","s":"III-III","ye":0.593,"yl":0.617,"yt":0.634},
{"p":"D1","s":"I-I","ye":0.415,"yl":0.443,"yt":0.465},
{"p":"D2","s":"I-VI","ye":0.062,"yl":0.0663,"yt":0.0645},
{"p":"D2","s":"I-III","ye":0.0473,"yl":0.0511,"yt":0.0532},
{"p":"D2","s":"I-II","ye":0.0457,"yl":0.0491,"yt":0.0469}
]
},
"columns":2,
"spacing":{"row":62.6,"column":84},
"bounds":"flush",
"concat":[
{"width":255,"height":178.5,
 "title":{"text":"A","anchor":"start","frame":"group","dx":-47,"offset":-15.3,"baseline":"alphabetic","fontSize":19,"fontWeight":"normal","font":"Liberation Sans","color":"#000"},
 "layer":[
 {"data":{"name":"A1"},"mark":{"type":"line","strokeWidth":1},
  "encoding":{"x":{"field":"x","type":"quantitative","scale":{"domain":[0,1000],"nice":false},"axis":{"title":"Rank","format":"d","tickCount":10,"labelExpr":"datum.value % 200 == 0 ? datum.label : ''","labelFlush":false,"labelOverlap":false,"tickSize":4,"labelPadding":4,"titlePadding":4}},
   "y":{"field":"y","type":"quantitative","scale":{"domain":[0,0.5],"nice":false},"axis":{"title":"Cumulative ratio","tickCount":50,"format":".1f","labelExpr":"abs(datum.value*10-round(datum.value*10))<1e-6 ? datum.label : ''","tickSize":{"condition":{"test":"abs(datum.value*10-round(datum.value*10))<1e-6","value":4},"value":2.5},"labelOverlap":false,"labelPadding":2,"titlePadding":9}},
   "color":{"field":"s","type":"nominal","legend":null,"scale":{"domain":["III-III","I-I","s3","s4","s5","s6","s7","I-VI","I-IV","III-V","I-II","I-III"],"range":["#3fe3e0","#8b44d8","#f0a43a","#f4ec4a","#3b5fd0","#e02a2a","#3ca83c","#8b44d8","#4fd64f","#f4ec4a","#3a46d0","#3fe3e0"]}}}},
 {"data":{"name":"lab"},"transform":[{"filter":"datum.p=='A1'"}],"mark":{"type":"rule","color":"#999999","strokeWidth":0.8},
  "encoding":{"x":{"datum":1000,"type":"quantitative","scale":{"domain":[0,1000],"nice":false}},"x2":{"datum":1047},"y":{"field":"ye","type":"quantitative","scale":{"domain":[0,0.5],"nice":false}},"y2":{"field":"yl"}}},
 {"data":{"name":"lab"},"transform":[{"filter":"datum.p=='A1'"}],"mark":{"type":"text","align":"left","baseline":"middle","dx":1,"font":"Liberation Serif","fontSize":12,"color":"#000"},
  "encoding":{"x":{"datum":1047,"type":"quantitative","scale":{"domain":[0,1000],"nice":false}},"y":{"field":"yt","type":"quantitative","scale":{"domain":[0,0.5],"nice":false}},"text":{"field":"s"}}}
 ]},
{"width":255,"height":178.5,
 "layer":[
 {"data":{"name":"A2"},"transform":[{"filter":"substring(datum.s,0,1)=='r'"}],"mark":{"type":"line","strokeWidth":0.9,"color":"#e42525"},
  "encoding":{"x":{"field":"x","type":"quantitative","scale":{"domain":[0,1000],"nice":false},"axis":{"title":"Rank","format":"d","tickCount":10,"labelExpr":"datum.value % 200 == 0 ? datum.label : ''","labelFlush":false,"labelOverlap":false,"tickSize":4,"labelPadding":4,"titlePadding":4}},
   "y":{"field":"y","type":"quantitative","scale":{"domain":[0,0.15],"nice":false},"axis":{"title":null,"tickCount":15,"format":".2f","labelExpr":"abs(datum.value*20-round(datum.value*20))<1e-6 ? datum.label : ''","tickSize":{"condition":{"test":"abs(datum.value*20-round(datum.value*20))<1e-6","value":4},"value":2.5},"labelOverlap":false,"labelPadding":2}},
   "detail":{"field":"s"}}},
 {"data":{"name":"A2"},"transform":[{"filter":"substring(datum.s,0,1)!='r'"}],"mark":{"type":"line","strokeWidth":1},
  "encoding":{"x":{"field":"x","type":"quantitative","scale":{"domain":[0,1000],"nice":false}},"y":{"field":"y","type":"quantitative","scale":{"domain":[0,0.15],"nice":false}},
   "color":{"field":"s","type":"nominal","legend":null,"scale":{"domain":["III-III","I-I","s3","s4","s5","s6","s7","I-VI","I-IV","III-V","I-II","I-III"],"range":["#3fe3e0","#8b44d8","#f0a43a","#f4ec4a","#3b5fd0","#e02a2a","#3ca83c","#8b44d8","#4fd64f","#f4ec4a","#3a46d0","#3fe3e0"]}}}},
 {"data":{"name":"lab"},"transform":[{"filter":"datum.p=='A2'"}],"mark":{"type":"rule","color":"#999999","strokeWidth":0.8},
  "encoding":{"x":{"datum":1000,"type":"quantitative","scale":{"domain":[0,1000],"nice":false}},"x2":{"datum":1047},"y":{"field":"ye","type":"quantitative","scale":{"domain":[0,0.15],"nice":false}},"y2":{"field":"yl"}}},
 {"data":{"name":"lab"},"transform":[{"filter":"datum.p=='A2'"}],"mark":{"type":"text","align":"left","baseline":"middle","dx":1,"font":"Liberation Serif","fontSize":12,"color":"#000"},
  "encoding":{"x":{"datum":1047,"type":"quantitative","scale":{"domain":[0,1000],"nice":false}},"y":{"field":"yt","type":"quantitative","scale":{"domain":[0,0.15],"nice":false}},"text":{"field":"s"}}}
 ]},
{"width":255,"height":178.5,
 "title":{"text":"B","anchor":"start","frame":"group","dx":-47,"offset":-25,"baseline":"alphabetic","fontSize":19,"fontWeight":"normal","font":"Liberation Sans","color":"#000"},
 "layer":[
 {"data":{"name":"B1"},"mark":{"type":"line","strokeWidth":1},
  "encoding":{"x":{"field":"x","type":"quantitative","scale":{"domain":[0,1000],"nice":false},"axis":{"title":"Rank","format":"d","tickCount":10,"labelExpr":"datum.value % 200 == 0 ? datum.label : ''","labelFlush":false,"labelOverlap":false,"tickSize":4,"labelPadding":4,"titlePadding":4}},
   "y":{"field":"y","type":"quantitative","scale":{"domain":[0,0.54],"nice":false},"axis":{"title":"Cumulative ratio","tickCount":54,"format":".1f","labelExpr":"abs(datum.value*10-round(datum.value*10))<1e-6 ? datum.label : ''","tickSize":{"condition":{"test":"abs(datum.value*10-round(datum.value*10))<1e-6","value":4},"value":2.5},"labelOverlap":false,"labelPadding":2,"titlePadding":9}},
   "color":{"field":"s","type":"nominal","legend":null,"scale":{"domain":["III-III","I-I","s3","s4","s5","s6","s7","I-VI","I-IV","III-V","I-II","I-III"],"range":["#3fe3e0","#8b44d8","#f0a43a","#f4ec4a","#3b5fd0","#e02a2a","#3ca83c","#8b44d8","#4fd64f","#f4ec4a","#3a46d0","#3fe3e0"]}}}},
 {"data":{"name":"lab"},"transform":[{"filter":"datum.p=='B1'"}],"mark":{"type":"rule","color":"#999999","strokeWidth":0.8},
  "encoding":{"x":{"datum":1000,"type":"quantitative","scale":{"domain":[0,1000],"nice":false}},"x2":{"datum":1047},"y":{"field":"ye","type":"quantitative","scale":{"domain":[0,0.54],"nice":false}},"y2":{"field":"yl"}}},
 {"data":{"name":"lab"},"transform":[{"filter":"datum.p=='B1'"}],"mark":{"type":"text","align":"left","baseline":"middle","dx":1,"font":"Liberation Serif","fontSize":12,"color":"#000"},
  "encoding":{"x":{"datum":1047,"type":"quantitative","scale":{"domain":[0,1000],"nice":false}},"y":{"field":"yt","type":"quantitative","scale":{"domain":[0,0.54],"nice":false}},"text":{"field":"s"}}}
 ]},
{"width":255,"height":178.5,
 "layer":[
 {"data":{"name":"B2"},"transform":[{"filter":"substring(datum.s,0,1)=='r'"}],"mark":{"type":"line","strokeWidth":0.9,"color":"#e42525"},
  "encoding":{"x":{"field":"x","type":"quantitative","scale":{"domain":[0,1000],"nice":false},"axis":{"title":"Rank","format":"d","tickCount":10,"labelExpr":"datum.value % 200 == 0 ? datum.label : ''","labelFlush":false,"labelOverlap":false,"tickSize":4,"labelPadding":4,"titlePadding":4}},
   "y":{"field":"y","type":"quantitative","scale":{"domain":[0,0.14],"nice":false},"axis":{"title":null,"tickCount":14,"format":".2f","labelExpr":"abs(datum.value*20-round(datum.value*20))<1e-6 ? datum.label : ''","tickSize":{"condition":{"test":"abs(datum.value*20-round(datum.value*20))<1e-6","value":4},"value":2.5},"labelOverlap":false,"labelPadding":2}},
   "detail":{"field":"s"}}},
 {"data":{"name":"B2"},"transform":[{"filter":"substring(datum.s,0,1)!='r'"}],"mark":{"type":"line","strokeWidth":1},
  "encoding":{"x":{"field":"x","type":"quantitative","scale":{"domain":[0,1000],"nice":false}},"y":{"field":"y","type":"quantitative","scale":{"domain":[0,0.14],"nice":false}},
   "color":{"field":"s","type":"nominal","legend":null,"scale":{"domain":["III-III","I-I","s3","s4","s5","s6","s7","I-VI","I-IV","III-V","I-II","I-III"],"range":["#3fe3e0","#8b44d8","#f0a43a","#f4ec4a","#3b5fd0","#e02a2a","#3ca83c","#8b44d8","#4fd64f","#f4ec4a","#3a46d0","#3fe3e0"]}}}},
 {"data":{"name":"lab"},"transform":[{"filter":"datum.p=='B2'"}],"mark":{"type":"rule","color":"#999999","strokeWidth":0.8},
  "encoding":{"x":{"datum":1000,"type":"quantitative","scale":{"domain":[0,1000],"nice":false}},"x2":{"datum":1047},"y":{"field":"ye","type":"quantitative","scale":{"domain":[0,0.14],"nice":false}},"y2":{"field":"yl"}}},
 {"data":{"name":"lab"},"transform":[{"filter":"datum.p=='B2'"}],"mark":{"type":"text","align":"left","baseline":"middle","dx":1,"font":"Liberation Serif","fontSize":12,"color":"#000"},
  "encoding":{"x":{"datum":1047,"type":"quantitative","scale":{"domain":[0,1000],"nice":false}},"y":{"field":"yt","type":"quantitative","scale":{"domain":[0,0.14],"nice":false}},"text":{"field":"s"}}}
 ]},
{"width":255,"height":178.5,
 "title":{"text":"C","anchor":"start","frame":"group","dx":-47,"offset":-24.8,"baseline":"alphabetic","fontSize":19,"fontWeight":"normal","font":"Liberation Sans","color":"#000"},
 "layer":[
 {"data":{"name":"C1"},"mark":{"type":"line","strokeWidth":1},
  "encoding":{"x":{"field":"x","type":"quantitative","scale":{"domain":[0,1000],"nice":false},"axis":{"title":"Rank","format":"d","tickCount":10,"labelExpr":"datum.value % 200 == 0 ? datum.label : ''","labelFlush":false,"labelOverlap":false,"tickSize":4,"labelPadding":4,"titlePadding":4}},
   "y":{"field":"y","type":"quantitative","scale":{"domain":[0,0.6],"nice":false},"axis":{"title":"Cumulative ratio","tickCount":60,"format":".1f","labelExpr":"abs(datum.value*10-round(datum.value*10))<1e-6 ? datum.label : ''","tickSize":{"condition":{"test":"abs(datum.value*10-round(datum.value*10))<1e-6","value":4},"value":2.5},"labelOverlap":false,"labelPadding":2,"titlePadding":9}},
   "color":{"field":"s","type":"nominal","legend":null,"scale":{"domain":["III-III","I-I","s3","s4","s5","s6","s7","I-VI","I-IV","III-V","I-II","I-III"],"range":["#3fe3e0","#8b44d8","#f0a43a","#f4ec4a","#3b5fd0","#e02a2a","#3ca83c","#8b44d8","#4fd64f","#f4ec4a","#3a46d0","#3fe3e0"]}}}},
 {"data":{"name":"lab"},"transform":[{"filter":"datum.p=='C1'"}],"mark":{"type":"rule","color":"#999999","strokeWidth":0.8},
  "encoding":{"x":{"datum":1000,"type":"quantitative","scale":{"domain":[0,1000],"nice":false}},"x2":{"datum":1047},"y":{"field":"ye","type":"quantitative","scale":{"domain":[0,0.6],"nice":false}},"y2":{"field":"yl"}}},
 {"data":{"name":"lab"},"transform":[{"filter":"datum.p=='C1'"}],"mark":{"type":"text","align":"left","baseline":"middle","dx":1,"font":"Liberation Serif","fontSize":12,"color":"#000"},
  "encoding":{"x":{"datum":1047,"type":"quantitative","scale":{"domain":[0,1000],"nice":false}},"y":{"field":"yt","type":"quantitative","scale":{"domain":[0,0.6],"nice":false}},"text":{"field":"s"}}}
 ]},
{"width":255,"height":178.5,
 "layer":[
 {"data":{"name":"C2"},"transform":[{"filter":"substring(datum.s,0,1)=='r'"}],"mark":{"type":"line","strokeWidth":0.9,"color":"#e42525"},
  "encoding":{"x":{"field":"x","type":"quantitative","scale":{"domain":[0,1000],"nice":false},"axis":{"title":"Rank","format":"d","tickCount":10,"labelExpr":"datum.value % 200 == 0 ? datum.label : ''","labelFlush":false,"labelOverlap":false,"tickSize":4,"labelPadding":4,"titlePadding":4}},
   "y":{"field":"y","type":"quantitative","scale":{"domain":[0,0.1],"nice":false},"axis":{"title":null,"tickCount":10,"format":".2f","labelExpr":"abs(datum.value*20-round(datum.value*20))<1e-6 ? datum.label : ''","tickSize":{"condition":{"test":"abs(datum.value*20-round(datum.value*20))<1e-6","value":4},"value":2.5},"labelOverlap":false,"labelPadding":2}},
   "detail":{"field":"s"}}},
 {"data":{"name":"C2"},"transform":[{"filter":"substring(datum.s,0,1)!='r'"}],"mark":{"type":"line","strokeWidth":1},
  "encoding":{"x":{"field":"x","type":"quantitative","scale":{"domain":[0,1000],"nice":false}},"y":{"field":"y","type":"quantitative","scale":{"domain":[0,0.1],"nice":false}},
   "color":{"field":"s","type":"nominal","legend":null,"scale":{"domain":["III-III","I-I","s3","s4","s5","s6","s7","I-VI","I-IV","III-V","I-II","I-III"],"range":["#3fe3e0","#8b44d8","#f0a43a","#f4ec4a","#3b5fd0","#e02a2a","#3ca83c","#8b44d8","#4fd64f","#f4ec4a","#3a46d0","#3fe3e0"]}}}},
 {"data":{"name":"lab"},"transform":[{"filter":"datum.p=='C2'"}],"mark":{"type":"rule","color":"#999999","strokeWidth":0.8},
  "encoding":{"x":{"datum":1000,"type":"quantitative","scale":{"domain":[0,1000],"nice":false}},"x2":{"datum":1047},"y":{"field":"ye","type":"quantitative","scale":{"domain":[0,0.1],"nice":false}},"y2":{"field":"yl"}}},
 {"data":{"name":"lab"},"transform":[{"filter":"datum.p=='C2'"}],"mark":{"type":"text","align":"left","baseline":"middle","dx":1,"font":"Liberation Serif","fontSize":12,"color":"#000"},
  "encoding":{"x":{"datum":1047,"type":"quantitative","scale":{"domain":[0,1000],"nice":false}},"y":{"field":"yt","type":"quantitative","scale":{"domain":[0,0.1],"nice":false}},"text":{"field":"s"}}}
 ]},
{"width":255,"height":178.5,
 "title":{"text":"D","anchor":"start","frame":"group","dx":-47,"offset":-18.8,"baseline":"alphabetic","fontSize":19,"fontWeight":"normal","font":"Liberation Sans","color":"#000"},
 "layer":[
 {"data":{"name":"D1"},"mark":{"type":"line","strokeWidth":1},
  "encoding":{"x":{"field":"x","type":"quantitative","scale":{"domain":[0,1000],"nice":false},"axis":{"title":"Rank","format":"d","tickCount":10,"labelExpr":"datum.value % 200 == 0 ? datum.label : ''","labelFlush":false,"labelOverlap":false,"tickSize":4,"labelPadding":4,"titlePadding":4}},
   "y":{"field":"y","type":"quantitative","scale":{"domain":[0,0.6],"nice":false},"axis":{"title":"Cumulative ratio","tickCount":60,"format":".1f","labelExpr":"abs(datum.value*10-round(datum.value*10))<1e-6 ? datum.label : ''","tickSize":{"condition":{"test":"abs(datum.value*10-round(datum.value*10))<1e-6","value":4},"value":2.5},"labelOverlap":false,"labelPadding":2,"titlePadding":9}},
   "color":{"field":"s","type":"nominal","legend":null,"scale":{"domain":["III-III","I-I","s3","s4","s5","s6","s7","I-VI","I-IV","III-V","I-II","I-III"],"range":["#3fe3e0","#8b44d8","#f0a43a","#f4ec4a","#3b5fd0","#e02a2a","#3ca83c","#8b44d8","#4fd64f","#f4ec4a","#3a46d0","#3fe3e0"]}}}},
 {"data":{"name":"lab"},"transform":[{"filter":"datum.p=='D1'"}],"mark":{"type":"rule","color":"#999999","strokeWidth":0.8},
  "encoding":{"x":{"datum":1000,"type":"quantitative","scale":{"domain":[0,1000],"nice":false}},"x2":{"datum":1047},"y":{"field":"ye","type":"quantitative","scale":{"domain":[0,0.6],"nice":false}},"y2":{"field":"yl"}}},
 {"data":{"name":"lab"},"transform":[{"filter":"datum.p=='D1'"}],"mark":{"type":"text","align":"left","baseline":"middle","dx":1,"font":"Liberation Serif","fontSize":12,"color":"#000"},
  "encoding":{"x":{"datum":1047,"type":"quantitative","scale":{"domain":[0,1000],"nice":false}},"y":{"field":"yt","type":"quantitative","scale":{"domain":[0,0.6],"nice":false}},"text":{"field":"s"}}}
 ]},
{"width":255,"height":178.5,
 "layer":[
 {"data":{"name":"D2"},"transform":[{"filter":"substring(datum.s,0,1)=='r'"}],"mark":{"type":"line","strokeWidth":0.9,"color":"#e42525"},
  "encoding":{"x":{"field":"x","type":"quantitative","scale":{"domain":[0,1000],"nice":false},"axis":{"title":"Rank","format":"d","tickCount":10,"labelExpr":"datum.value % 200 == 0 ? datum.label : ''","labelFlush":false,"labelOverlap":false,"tickSize":4,"labelPadding":4,"titlePadding":4}},
   "y":{"field":"y","type":"quantitative","scale":{"domain":[0,0.08],"nice":false},"axis":{"title":null,"tickCount":8,"format":".2f","labelExpr":"abs(datum.value*20-round(datum.value*20))<1e-6 ? datum.label : ''","tickSize":{"condition":{"test":"abs(datum.value*20-round(datum.value*20))<1e-6","value":4},"value":2.5},"labelOverlap":false,"labelPadding":2}},
   "detail":{"field":"s"}}},
 {"data":{"name":"D2"},"transform":[{"filter":"substring(datum.s,0,1)!='r'"}],"mark":{"type":"line","strokeWidth":1},
  "encoding":{"x":{"field":"x","type":"quantitative","scale":{"domain":[0,1000],"nice":false}},"y":{"field":"y","type":"quantitative","scale":{"domain":[0,0.08],"nice":false}},
   "color":{"field":"s","type":"nominal","legend":null,"scale":{"domain":["III-III","I-I","s3","s4","s5","s6","s7","I-VI","I-IV","III-V","I-II","I-III"],"range":["#3fe3e0","#8b44d8","#f0a43a","#f4ec4a","#3b5fd0","#e02a2a","#3ca83c","#8b44d8","#4fd64f","#f4ec4a","#3a46d0","#3fe3e0"]}}}},
 {"data":{"name":"lab"},"transform":[{"filter":"datum.p=='D2'"}],"mark":{"type":"rule","color":"#999999","strokeWidth":0.8},
  "encoding":{"x":{"datum":1000,"type":"quantitative","scale":{"domain":[0,1000],"nice":false}},"x2":{"datum":1047},"y":{"field":"ye","type":"quantitative","scale":{"domain":[0,0.08],"nice":false}},"y2":{"field":"yl"}}},
 {"data":{"name":"lab"},"transform":[{"filter":"datum.p=='D2'"}],"mark":{"type":"text","align":"left","baseline":"middle","dx":1,"font":"Liberation Serif","fontSize":12,"color":"#000"},
  "encoding":{"x":{"datum":1047,"type":"quantitative","scale":{"domain":[0,1000],"nice":false}},"y":{"field":"yt","type":"quantitative","scale":{"domain":[0,0.08],"nice":false}},"text":{"field":"s"}}}
 ]}
]
}
